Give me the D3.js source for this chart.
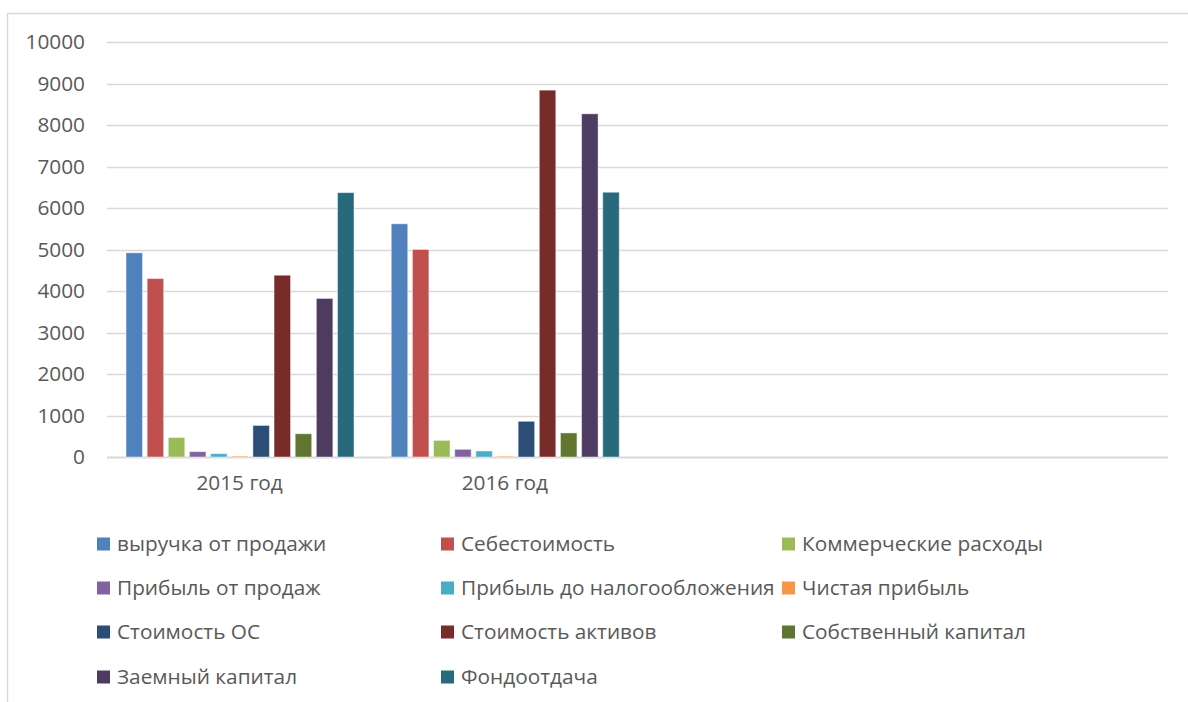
<!DOCTYPE html>
<html>
<head>
<meta charset="utf-8">
<script src="https://cdn.jsdelivr.net/npm/d3@7"></script>
<style>
  html, body { margin: 0; padding: 0; background: #fff; }
  svg { display: block; }
  text { font-family: "Open Sans", "Liberation Sans", Arial, sans-serif; fill: #595959; }
</style>
</head>
<body>
<svg id="chart" width="1188" height="702"></svg>
<script>
// Categories on the x axis (the last two slots are empty)
const categories = ["2015 год", "2016 год", "", ""];

// Series names, in legend order
const seriesNames = [
  "выручка от продажи", "Себестоимость", "Коммерческие расходы",
  "Прибыль от продаж", "Прибыль до налогообложения", "Чистая прибыль",
  "Стоимость ОС", "Стоимость активов", "Собственный капитал",
  "Заемный капитал", "Фондоотдача"
];

// Values for 2015 год and 2016 год, one array per series
const vyruchka        = [4920, 5620];
const sebestoimost    = [4300, 5000];
const kommercheskie   = [470, 400];
const pribylProdazh   = [130, 185];
const pribylDoNaloga  = [80, 145];
const chistayaPribyl  = [25, 20];
const stoimostOS      = [760, 860];
const stoimostAktivov = [4380, 8840];
const sobstvKapital   = [560, 580];
const zaemnyKapital   = [3820, 8270];
const fondootdacha    = [6370, 6380];

const seriesValues = [
  vyruchka, sebestoimost, kommercheskie, pribylProdazh, pribylDoNaloga,
  chistayaPribyl, stoimostOS, stoimostAktivov, sobstvKapital,
  zaemnyKapital, fondootdacha
];

const colors = [
  "#4F81BD", "#C0504D", "#9BBB59", "#8064A2", "#4BACC6", "#F79646",
  "#2C4D75", "#772C2A", "#5F7530", "#4D3B62", "#276A7C"
];

// Y axis ticks
const yTicks = [0, 1000, 2000, 3000, 4000, 5000, 6000, 7000, 8000, 9000, 10000];

const FONT = '"Open Sans", "Liberation Sans", Arial, sans-serif';
const FONT_SIZE = "20.8px";

const svg = d3.select("#chart");

// Chart frame
svg.append("path")
  .attr("d", "M7.5,702 L7.5,13.5 L1188,13.5")
  .attr("fill", "none")
  .attr("stroke", "#d9d9d9")
  .attr("stroke-width", 1.5);

const plotLeft = 107, plotRight = 1168;
const y = d3.scaleLinear().domain([0, 10000]).range([457, 42]);
const x0 = d3.scaleBand().domain(categories.map((c, i) => i)).range([plotLeft, plotRight]).padding(0);
const x1 = d3.scaleBand().domain(seriesNames.map((s, i) => i))
  .range([19, 247]).paddingInner(0.22).paddingOuter(0);

// Gridlines
svg.append("g").selectAll("line")
  .data(yTicks)
  .join("line")
  .attr("x1", plotLeft).attr("x2", plotRight)
  .attr("y1", d => Math.round(y(d)) + 0.5).attr("y2", d => Math.round(y(d)) + 0.5)
  .attr("stroke", "#d9d9d9")
  .attr("stroke-width", d => d === 0 ? 2 : 1.5);

// Y axis labels
const yAxis = d3.axisLeft(y).tickValues(yTicks).tickFormat(d3.format("d")).tickSize(0).tickPadding(0);
const gy = svg.append("g").attr("transform", "translate(85,0)").call(yAxis);
gy.select(".domain").remove();
gy.selectAll("text")
  .style("font-family", FONT)
  .style("font-size", FONT_SIZE)
  .attr("fill", "#595959");

// Bars
const groups = svg.append("g").selectAll("g")
  .data(categories.slice(0, 2))
  .join("g")
  .attr("transform", (d, i) => `translate(${x0(i)},0)`);

groups.selectAll("rect")
  .data((d, ci) => seriesValues.map((vals, si) => ({ si, v: vals[ci] })))
  .join("rect")
  .attr("x", d => x1(d.si))
  .attr("width", x1.bandwidth())
  .attr("y", d => y(d.v))
  .attr("height", d => y(0) - y(d.v))
  .attr("fill", d => colors[d.si])
  .attr("stroke", "rgba(255,255,255,0.45)")
  .attr("stroke-width", 1);

// Category labels
const xAxis = d3.axisBottom(x0).tickFormat(i => categories[i]).tickSize(0).tickPadding(0);
const gx = svg.append("g").attr("transform", "translate(0,475)").call(xAxis);
gx.select(".domain").remove();
gx.selectAll("text")
  .style("font-family", FONT)
  .style("font-size", FONT_SIZE)
  .attr("fill", "#595959");

// Legend: three columns, row-major order
const legendCols = [97, 441, 782];
const legendRows = [544, 588, 632, 677];
const legend = svg.append("g").selectAll("g")
  .data(seriesNames)
  .join("g")
  .attr("transform", (d, i) => `translate(${legendCols[i % 3]},${legendRows[Math.floor(i / 3)]})`);

legend.append("rect")
  .attr("x", 0).attr("y", -6.5)
  .attr("width", 13).attr("height", 13)
  .attr("fill", (d, i) => colors[i]);

legend.append("text")
  .attr("x", 20).attr("y", 0)
  .attr("dy", "0.35em")
  .style("font-family", FONT)
  .style("font-size", FONT_SIZE)
  .text(d => d);
</script>
</body>
</html>
